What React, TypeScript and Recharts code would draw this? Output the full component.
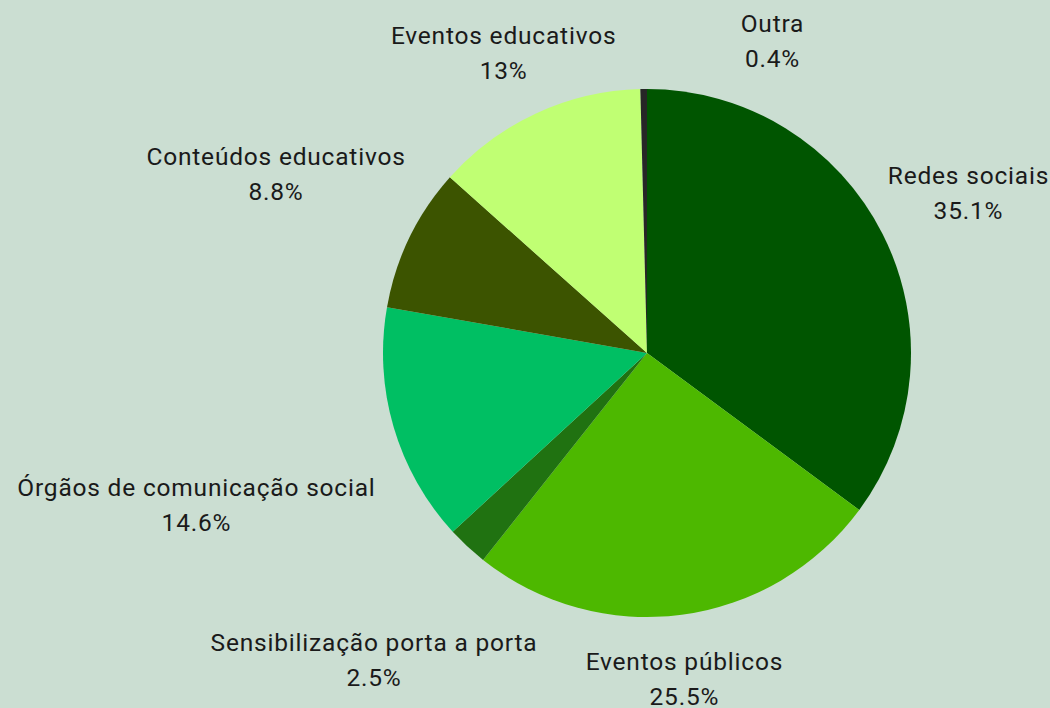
import { PieChart, Pie, Cell } from 'recharts';

const categories = [
  'Redes sociais',
  'Eventos públicos',
  'Sensibilização porta a porta',
  'Órgãos de comunicação social',
  'Conteúdos educativos',
  'Eventos educativos',
  'Outra',
];
const shares = [35.1, 25.5, 2.5, 14.6, 8.8, 13, 0.4];
const shareLabels = ['35.1%', '25.5%', '2.5%', '14.6%', '8.8%', '13%', '0.4%'];

const COLORS = ['#005500', '#4db800', '#207211', '#00bf63', '#3c5400', '#c0ff73', '#262626'];

// label nudges (px) relative to the default label ring
const NUDGE: [number, number][] = [
  [0, 2],
  [-10, -31],
  [-28, 43],
  [-105, 50],
  [-47, -23],
  [8, 26],
  [130, 47],
];

const data = categories.map((name, i) => ({ name, value: shares[i], label: shareLabels[i] }));

const RADIAN = Math.PI / 180;

const renderLabel = (props: any) => {
  const { cx, cy, midAngle, outerRadius, index } = props;
  const r = outerRadius + 96;
  const [dx, dy] = NUDGE[index] ?? [0, 0];
  const x = cx + r * Math.cos(-midAngle * RADIAN) + dx;
  const y = cy + r * Math.sin(-midAngle * RADIAN) + dy;
  return (
    <text
      x={x}
      y={y}
      textAnchor="middle"
      fill="#1a1a1a"
      fontSize={24.5}
      letterSpacing={0.8}
      fontFamily="Roboto, sans-serif"
    >
      <tspan x={x} y={y - 17} dominantBaseline="central">{data[index].name}</tspan>
      <tspan x={x} y={y + 18} dominantBaseline="central">{data[index].label}</tspan>
    </text>
  );
};

const App = () => {
  return (
    <div
      style={{
        position: 'absolute',
        top: 0,
        left: 0,
        width: 1050,
        height: 708,
        background: '#cbded2',
        overflow: 'hidden',
      }}
    >
      <PieChart width={1050} height={708} margin={{ top: 0, right: 0, bottom: 0, left: 0 }}>
        <Pie
          data={data}
          dataKey="value"
          nameKey="name"
          cx={647}
          cy={353}
          outerRadius={264}
          startAngle={90}
          endAngle={-270}
          stroke="none"
          label={renderLabel}
          labelLine={false}
          isAnimationActive={false}
        >
          {data.map((d, i) => (
            <Cell key={d.name} fill={COLORS[i]} />
          ))}
        </Pie>
      </PieChart>
    </div>
  );
};

export default App;
